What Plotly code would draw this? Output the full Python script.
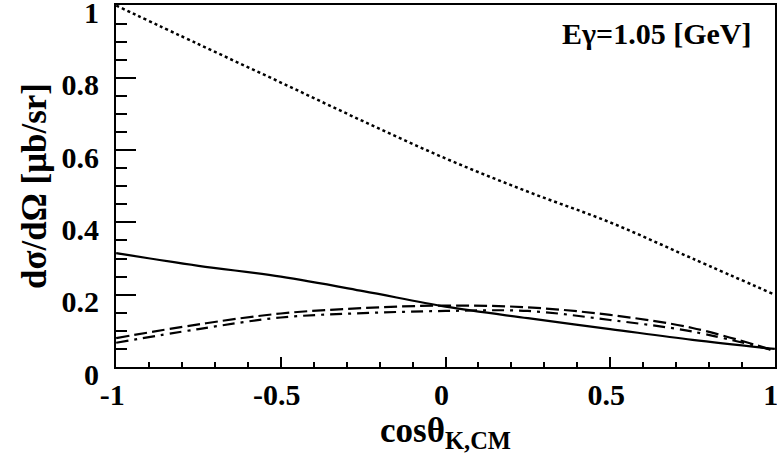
import plotly.graph_objects as go

cos_theta = [-1.0, -0.75, -0.5, -0.25, 0.0, 0.25, 0.5, 0.75, 1.0]
solid_vals = [0.315, 0.280, 0.250, 0.210, 0.167, 0.135, 0.105, 0.075, 0.050]
dashed_vals = [0.080, 0.118, 0.148, 0.163, 0.170, 0.165, 0.144, 0.108, 0.045]
dashdot_vals = [0.067, 0.105, 0.137, 0.149, 0.155, 0.155, 0.130, 0.098, 0.045]
dotted_vals = [1.000, 0.893, 0.787, 0.680, 0.577, 0.485, 0.400, 0.300, 0.200]

x_tickvals = [-1, -0.5, 0, 0.5, 1]
x_ticktext = ["-1", "-0.5", "0", "0.5", "1"]
y_tickvals = [0, 0.2, 0.4, 0.6, 0.8, 1]
y_ticktext = ["0", "0.2", "0.4", "0.6", "0.8", "1"]

FONT = "Liberation Serif"

fig = go.Figure()
fig.add_trace(go.Scatter(x=cos_theta, y=dotted_vals, mode="lines", line=dict(color="black", width=2.5, dash="dot", shape="spline")))
fig.add_trace(go.Scatter(x=cos_theta, y=solid_vals, mode="lines", line=dict(color="black", width=2.2, shape="spline")))
fig.add_trace(go.Scatter(x=cos_theta, y=dashed_vals, mode="lines", line=dict(color="black", width=2.2, dash="13px,5px", shape="spline")))
fig.add_trace(go.Scatter(x=cos_theta, y=dashdot_vals, mode="lines", line=dict(color="black", width=2.2, dash="12px,6px,3px,6px", shape="spline")))

fig.update_layout(
    width=777, height=464,
    margin=dict(l=116, r=2, t=5, b=97, autoexpand=False),
    paper_bgcolor="white", plot_bgcolor="white",
    showlegend=False,
    font=dict(family=FONT, color="black", size=24),
)
fig.update_xaxes(
    range=[-1.0005, 1.0005], tickvals=x_tickvals, ticktext=x_ticktext,
    ticks="inside", ticklen=10, tickwidth=2, tickcolor="black",
    minor=dict(ticks="inside", ticklen=5, tickwidth=2, tickcolor="black", dtick=0.1, showgrid=False),
    showline=True, linecolor="black", linewidth=2, mirror=True,
    showgrid=False, zeroline=False, ticklabeloverflow="allow", automargin=False,
    ticklabelshift=-4,
    tickfont=dict(family=FONT, size=30, weight="bold"),
    title=dict(text="cosθ<sub>K,CM</sub>", font=dict(family=FONT, size=35, weight="bold"), standoff=4),
)
fig.update_yaxes(
    range=[0, 1.0015], tickvals=y_tickvals, ticktext=y_ticktext,
    ticks="inside", ticklen=20, tickwidth=2, tickcolor="black",
    minor=dict(ticks="inside", ticklen=11, tickwidth=2, tickcolor="black", dtick=0.05, showgrid=False),
    showline=True, linecolor="black", linewidth=2, mirror=True,
    showgrid=False, zeroline=False, ticklabeloverflow="allow", ticklabelstandoff=9, automargin=False,
    ticklabelshift=7,
    tickfont=dict(family=FONT, size=30, weight="bold"),
    title=dict(text="dσ/dΩ [μb/sr]", font=dict(family=FONT, size=35, weight="bold"), standoff=4),
)

fig.add_annotation(
    x=0.9666, y=0.972, xref="paper", yref="paper", xanchor="right", yanchor="top",
    text="Eγ=1.05 [GeV]", showarrow=False, font=dict(family=FONT, size=30, weight="bold"),
)

fig.write_html("out.html")
